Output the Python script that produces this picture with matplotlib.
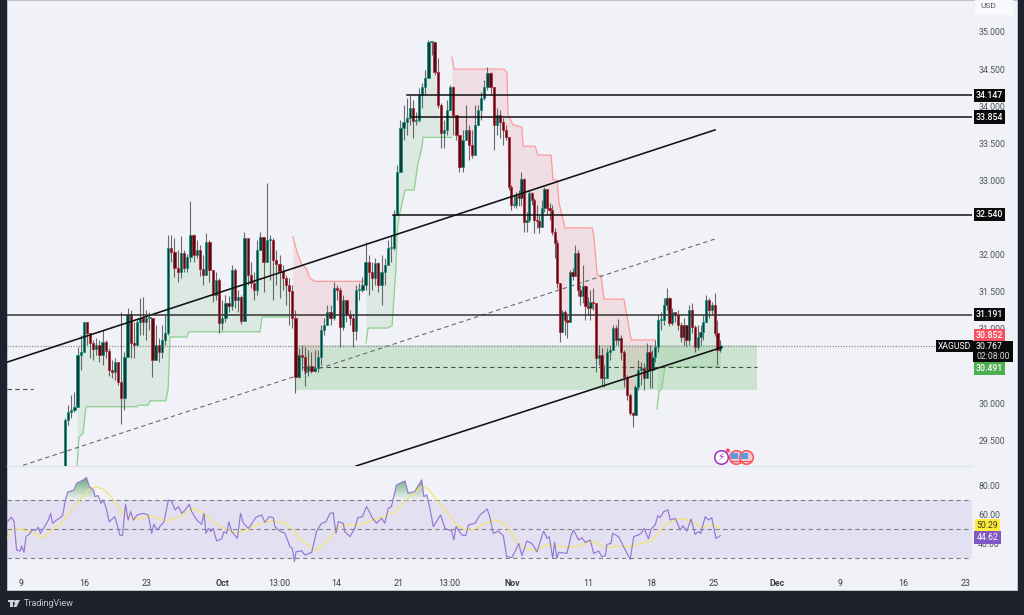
import numpy as np
import matplotlib
matplotlib.use("Agg")
import matplotlib.pyplot as plt
import matplotlib.transforms as mtr
from matplotlib.patches import Rectangle, Circle, Polygon

plt.rcParams['font.family'] = ['Roboto', 'DejaVu Sans']

# ---- candles (bars follow each other, open = previous close) ----
first_open = 29.10
segment_sizes = [34, 38, 32, 37, 34, 45]
segment_times = [14, 46.7, 85.1, 117.5, 154, 181.6, 222]
closes = [
 29.77,29.88,29.91,29.95,30.65,30.69,31.09,30.94,30.81,30.73,30.78,30.65,30.82,30.70,30.44,30.42,30.55,30.28,30.07,30.62,31.20,30.81,30.78,31.09,31.15,31.09,31.15,31.15,30.58,30.78,30.69,30.85,30.94,32.09,
 32.03,31.82,31.77,32.02,31.82,31.97,32.26,32.00,32.06,31.81,31.72,32.17,31.79,31.46,31.66,31.08,31.15,31.35,31.31,31.79,31.39,31.43,31.10,32.22,31.72,31.62,31.52,32.06,32.24,31.90,32.20,32.20,31.93,31.87,31.78,31.68,31.59,31.51,
 31.15,30.35,30.65,30.62,30.43,30.50,30.43,30.47,30.62,30.98,31.05,31.23,31.15,31.55,31.52,31.02,31.39,31.19,31.15,30.97,31.52,31.52,31.59,31.90,31.77,31.68,31.89,31.59,31.77,31.86,32.09,32.09,
 32.53,33.11,33.71,33.79,33.84,33.98,33.80,33.81,34.15,34.26,34.38,34.87,34.87,34.46,34.02,33.64,33.68,33.95,34.26,33.88,33.61,33.18,33.54,33.68,33.48,33.34,33.75,33.95,34.11,34.26,34.45,34.26,33.75,33.88,33.79,33.68,33.58,
 32.91,32.67,32.67,32.80,32.76,33.02,32.44,32.47,32.83,32.74,32.47,32.45,32.37,32.63,32.88,32.63,32.60,32.30,32.16,31.62,30.96,31.23,31.12,31.09,31.77,31.71,32.02,31.52,31.44,31.58,31.31,31.28,31.36,31.35,
 30.61,30.65,30.34,30.34,30.69,30.71,31.01,30.85,30.88,30.69,30.35,30.11,29.86,29.84,30.21,30.44,30.47,30.34,30.69,30.44,30.62,30.75,31.12,31.12,31.32,31.41,31.08,31.23,31.19,31.05,30.89,31.05,30.85,31.25,31.02,30.75,30.89,30.96,31.09,31.39,31.25,31.32,30.94,30.71,30.78]
highs = [
 29.80,29.97,30.11,30.15,30.75,30.92,31.09,31.09,30.94,30.85,30.88,30.85,30.98,30.85,30.74,30.58,30.61,30.55,31.23,30.69,31.28,31.25,31.09,31.15,31.41,31.43,31.25,31.23,31.15,31.05,30.88,31.05,31.19,32.26,
 32.26,32.22,32.06,32.25,32.06,32.01,32.72,32.28,32.20,32.13,32.00,32.29,32.20,31.72,31.77,31.68,31.39,31.46,31.44,31.86,31.82,31.52,31.46,32.30,32.20,31.90,31.77,32.20,32.30,32.20,32.97,32.26,32.22,32.06,31.99,31.86,31.72,31.68,
 31.59,31.25,30.74,30.78,30.75,30.71,30.69,30.71,30.71,31.05,31.15,31.32,31.32,31.63,31.59,31.56,31.46,31.39,31.25,31.20,31.59,31.62,31.70,32.17,32.00,31.90,31.95,31.90,32.00,31.95,32.20,32.26,
 32.60,33.21,33.81,34.01,34.11,34.15,34.08,33.92,34.24,34.31,34.49,34.89,34.88,34.78,34.65,34.04,33.81,34.08,34.29,34.27,33.81,33.57,33.68,34.02,33.75,33.68,34.01,34.02,34.19,34.35,34.53,34.46,34.26,33.98,33.95,33.84,33.75,
 33.58,32.94,32.80,32.84,32.87,33.11,33.03,32.57,32.87,32.84,32.76,32.67,32.53,32.74,32.91,32.80,32.69,32.67,32.36,32.20,31.59,31.25,31.25,31.19,31.79,31.82,32.13,32.06,31.59,31.86,31.59,31.43,31.52,31.55,
 31.35,30.78,30.74,30.51,30.74,30.78,31.05,31.05,31.13,30.92,30.71,30.38,30.13,29.88,30.24,30.58,30.55,30.54,30.81,30.78,30.71,30.85,31.19,31.23,31.41,31.55,31.43,31.28,31.23,31.25,31.09,31.15,31.05,31.32,31.35,31.05,31.05,31.05,31.19,31.46,31.41,31.36,31.48,31.12,30.85]
lows = [
 29.10,29.70,29.80,29.88,29.97,30.44,30.69,30.78,30.61,30.58,30.65,30.55,30.51,30.61,30.36,30.34,30.31,30.24,29.72,29.91,30.78,30.61,30.61,30.78,30.92,30.92,30.85,30.98,30.35,30.63,30.55,30.61,30.78,30.92,
 31.90,31.70,31.63,31.68,31.77,31.77,31.90,31.90,31.95,31.71,31.59,31.77,31.63,31.36,31.39,30.94,30.98,31.09,31.23,31.25,31.28,31.23,31.06,31.52,31.59,31.55,31.39,31.46,32.06,31.50,31.90,31.66,31.39,31.59,31.41,31.52,31.32,31.05,
 31.01,30.13,30.34,30.44,30.23,30.36,30.40,30.42,30.42,30.51,30.92,31.05,31.05,31.12,31.39,30.75,30.98,31.09,31.05,30.75,30.85,31.39,31.50,31.52,31.46,31.52,31.59,31.50,31.32,31.59,31.90,31.90,
 32.06,32.53,33.11,33.54,33.61,33.75,33.57,33.75,33.79,33.98,34.15,34.38,34.69,34.42,33.98,33.44,33.44,33.61,33.95,33.61,33.54,33.11,33.11,33.54,33.27,33.30,33.34,33.75,33.81,34.08,34.22,34.15,33.41,33.61,33.57,33.48,33.54,
 32.87,32.60,32.64,32.63,32.65,32.65,32.30,32.30,32.44,32.67,32.29,32.36,32.29,32.37,32.57,32.53,32.47,32.26,31.95,31.55,30.82,30.96,30.92,30.88,31.12,31.66,31.75,31.44,31.32,31.35,31.12,31.19,31.12,31.25,
 30.42,30.51,30.24,30.21,30.34,30.58,30.71,30.78,30.78,30.58,30.21,30.04,29.84,29.68,29.84,30.18,30.24,30.18,30.34,30.20,30.20,30.55,30.69,30.98,31.05,31.25,31.04,31.05,31.09,30.98,30.82,30.78,30.77,30.78,30.94,30.69,30.71,30.78,30.85,31.09,31.15,31.19,30.90,30.51,30.69]

# ---- trailing stop lines: (time, price) ----
green1_t = [17.8,18.4,19.7,20.6,36.8,37.1,40.3,41,46,46.7,47.3,52.7,53.3,75.9,76.5,84.8]
green1_p = [29.15,29.54,29.59,29.95,29.95,29.97,29.97,30.03,30.03,30.18,30.89,30.89,30.96,30.96,31.16,31.16]
green2_t = [109.5,110.2,116.2,117.8,118.4,119,119.4,120,121,121.9,124.8,126,127.3,127.6,136.8]
green2_p = [30.81,31.01,31.01,31.04,31.43,31.79,32.29,32.51,32.70,32.87,32.87,33.23,33.45,33.58,33.58]
green3_t = [201.9,202.5,203.5,204.4,222]
green3_p = [29.92,30.15,30.20,30.49,30.49]
red1_t = [86.3,87,87.9,89.2,90.5,91.7,93.3,109.2]
red1_p = [32.24,32.13,32.0,31.86,31.82,31.68,31.64,31.64]
red2_t = [136.8,137.5,153.3,154.3,154.6,156.2,159,159.4,163.2,164.1,168.3,168.9,170.2,170.8,172.7,181.3,181.9,182.9,184.1,185.1,191.4,193.7,201.3]
red2_p = [34.66,34.50,34.50,34.45,33.88,33.75,33.72,33.46,33.46,33.34,33.34,33.01,33.0,32.70,32.36,32.36,32.24,31.72,31.72,31.40,31.40,30.85,30.85]

# ---- drawn levels ----
h_levels = [34.147, 33.854, 32.540, 31.191]
h_starts = [122.5, 124, 118, -4.44]
price_ticks = [29.5,30.0,31.0,31.5,32.0,33.0,33.5,34.0,34.5,35.0]

# ---- RSI ----
rsi_t = [-4.3,-3,-2.2,-1.4,-.3,.2,.95,1.6,2.9,3.4,4.8,5.5,6.2,7.6,8.7,9.4,10.05,11.3,12.2,13.2,14,14.8,16.8,17.7,19.8,20.8,21.7,23,23.5,24.5,25.4,26.1,27,28,29.8,31.4,32.2,33.2,34,34.8,35.7,36.9,38.8,40.4,41.5,42.2,43.3,44.1,45.4,46.8,47.8,48.9,50,51,52.1,53.4,54.2,55.8,57.3,58.1,58.7,59.5,60.2,61,62.1,63.7,64.4,65.3,66,66.9,68.7,69.7,70.6,72.2,74.6,76.4,77.4,78.8,80.1,80.6,82.2,83.8,85.4,86.1,86.8,87.3,89.1,90.1,92.3,93.8,95.4,96.8,98.1,99.1,100,100.7,102.3,102.8,104.4,106,106.9,108.4,109.7,110.6,111.6,112.9,114.5,115.5,116.6,117.6,119.2,121.9,122.9,125,127.2,127.9,128.8,129.8,130.9,133.2,134.6,136.7,137.4,138.1,139.9,141.2,142,144.1,145.7,148,148.9,149.9,151.5,153.1,154.2,155.8,157.1,158,159,160.6,162.2,163.8,165.9,167,167.7,168.8,169.4,170.1,170.7,173.3,174.7,175.4,177,178.1,179.1,180.7,181.8,183.4,184.4,185.5,186,187.3,187.8,189.7,191.3,193.4,194.5,196,196.9,197.8,199.2,200,201.3,202.2,202.9,204,205.4,206.1,207.7,209.3,210.1,211.4,212.7,214,215.1,215.8,217.2,218.3,219.3,220.6,222]
rsi_v = [55.1,58.2,55.1,35.4,34.7,38.2,33.8,44.7,47,49.3,49.3,51.2,47,52.1,56.3,60.9,54,56.3,57.5,59.3,69.1,75.6,77.2,81.9,84.2,85.8,79.5,77.2,72.6,73.3,67.9,70.2,64.9,55.1,58.6,45.9,45.4,67.2,56.3,62.1,56.3,59.8,60.9,59.8,47,53.3,49.3,51.7,55.1,70.2,69.5,63.3,65.6,60.9,63.3,67.2,62.1,56.3,53.3,60.9,47,50.5,48.2,50.5,41.7,43.1,48.2,47,55.1,48.2,43.5,60.9,54,50.5,58.2,59.8,54.7,58.6,57.9,51.7,48.6,47,37.7,36.6,27.3,34.2,34.9,31.9,33.8,48.2,54,55.1,60.9,61.4,47,55.1,54,48.2,44.7,50.5,57.9,58.6,65.6,62.1,57.5,54,57.5,54,64.4,65.6,80.7,83.5,74.9,76.1,84.2,72.6,73.7,64.4,51.7,59.8,50.5,48.6,42.4,51.7,45.9,45.4,52.8,54,59.8,64,57.9,47,48.6,45.4,30.8,30.1,35.4,40,31.5,41.7,40,34.2,48.6,43.5,44.7,29.6,40.7,29.6,33.8,33.1,45.9,49.3,42.4,44,40.7,42.4,33.1,34.7,30.8,31.5,39.3,40,47,44.7,37.7,28.9,44.7,45.9,47,50.5,43.1,50,52.8,59.3,57.9,62.1,63.3,56.3,57.5,49.3,52.4,48.6,57,46.3,48.2,47,58.6,56.3,57.9,43.5,45.4]
ma_t = [-4.3,-2.4,-.3,1.8,3.9,6.9,9.2,11.3,13.4,15.6,18.7,21.4,23.5,26.1,28.2,30.4,32.5,35.7,38.3,41,43.6,46.2,50.5,54.2,56.8,60,63.2,66.3,68.7,71.6,74.8,79,83.3,86.4,89.6,93.3,96,99.1,102.3,107.1,110.8,115,118.7,121.4,124.5,127.2,129.3,131.9,135.1,138.8,143,146.7,150.4,153.1,155.8,157.4,160.1,163.8,166.4,170.1,173.3,177,181.2,186,189.7,193.9,196.6,200.3,202.4,205,208.7,211.9,216.1,219.3,222]
ma_v = [43.5,49.8,49.8,48.9,47,44,48.2,51.7,55.1,62.1,70.2,77.2,79.5,77.9,73.7,66.8,60.3,56.8,57.5,59.3,57.5,55.6,58.6,64.4,62.6,57.5,51.7,48.9,47.5,49.3,52.8,55.6,54.7,49.3,41.2,34.7,38.9,47,53.3,52.8,55.6,58.6,61.6,67.9,74.9,79.5,77.9,70.2,62.1,51.7,48.9,53.3,56.3,54,47,40,36.6,34.7,38.9,38.2,37.3,38.2,41.7,37,38.2,37.7,40,41.7,47,54,57,56.3,51.2,52.8,50.5]
rsi_ticks = [40, 60, 80]

# ---- time axis ----
time_ticks = [0,20,40,64,82,100,120,136,156,180,200,220,240,260,280,300]
time_labels = ['9','16','23','Oct','13:00','14','21','13:00','Nov','11','18','25','Dec','9','16','23']
bold_labels = {'Oct','Nov','Dec'}

DARK = '#1e222d'; PANEL = '#f0f2f7'
W, H = 1024, 615
fig = plt.figure(figsize=(W/100, H/100), dpi=100, facecolor=DARK)
def box(x0, y0, x1, y1):
    return [x0/W, 1-y1/H, (x1-x0)/W, (y1-y0)/H]
pxT = mtr.Affine2D().scale(1/W, -1/H).translate(0, 1) + fig.transFigure
fig.add_artist(Rectangle((7, 0), 1010, 590, transform=pxT, fc=PANEL, ec='#c9ccd4', lw=0.6, zorder=-5))
fig.add_artist(Rectangle((975, 0), 38, 15, transform=pxT, fc='#f8f9fd', ec='none', zorder=-4))
fig.text(988/W, 1-6/H, 'USD', fontsize=6, color='#50535e', ha='center', va='center')

ax = fig.add_axes(box(7, 0, 972, 466), facecolor='none')
rx = fig.add_axes(box(7, 467, 972, 572), facecolor='none')
XMAX = 301.9
for a in (ax, rx):
    a.set_xlim(-4.44, XMAX)
    for s in a.spines.values():
        s.set_visible(False)
ax.set_ylim(29.151, 35.431)
rx.set_ylim(20.1, 93.2)

# ---- bars ----
closes, highs, lows = map(np.array, (closes, highs, lows))
opens = np.r_[first_open, closes[:-1]]
idx = np.r_[0, np.cumsum(segment_sizes) - 1]
bar_t = np.interp(np.arange(len(closes)), idx, segment_times)

# trailing fills
def trail(t, p, color, fillc, alpha):
    t, p = np.array(t), np.array(p)
    grid = np.union1d(t, bar_t[(bar_t >= t[0]) & (bar_t <= t[-1])])
    ax.fill_between(grid, np.interp(grid, t, p), np.interp(grid, bar_t, closes),
                    color=fillc, alpha=alpha, lw=0, zorder=1.5)
    ax.plot(t, p, color=color, lw=0.9, zorder=2)
for t, p in ((green1_t, green1_p), (green2_t, green2_p), (green3_t, green3_p)):
    trail(t, p, '#8fd08f', '#4caf50', 0.12)
for t, p in ((red1_t, red1_p), (red2_t, red2_p)):
    trail(t, p, '#ff9a9a', '#f23645', 0.11)

# zone
ax.add_patch(Rectangle((87, 30.18), 146.7, 0.60, fc='#4caf50', alpha=0.22, ec='none', zorder=1))
ax.plot([87, 233.7], [30.49, 30.49], color='#4a4a4a', lw=0.8, ls=(0, (4, 3)), zorder=2.5)
ax.plot([-4.44, 3.8], [30.19, 30.19], color='#4a4a4a', lw=0.8, ls=(0, (4, 3)), zorder=2.5)

up = closes >= opens
ax.vlines(bar_t, lows, highs, color='#3c3c3c', lw=0.8, alpha=0.75, zorder=3)
ax.bar(bar_t[up], np.maximum(closes-opens, 0.015)[up], bottom=opens[up], width=0.72,
       color='#0b3d38', edgecolor='#1f8f80', lw=0.6, zorder=3.2)
ax.bar(bar_t[~up], np.maximum(opens-closes, 0.015)[~up], bottom=closes[~up], width=0.72,
       color='#45101a', edgecolor='#b82c38', lw=0.6, zorder=3.2)

# trend lines and levels
ax.plot([-4.44, 220.3], [30.55, 33.68], color='#111', lw=1.15, zorder=4)
ax.plot([106.3, 222.5], [29.15, 30.75], color='#111', lw=1.15, zorder=4)
ax.plot([0.63, 220.3], [29.16, 32.21], color='#6a6a6a', lw=0.8, ls=(0, (4, 3)), zorder=2.6)
for lv, st in zip(h_levels, h_starts):
    ax.plot([st, XMAX], [lv, lv], color='#111' if lv != 31.191 else '#333', lw=1.1, zorder=4)
ax.plot([-4.44, XMAX], [30.767, 30.767], color='#8a8a8a', lw=0.9, ls=(0, (1, 1.2)), zorder=2.7)

# price scale
ax.yaxis.tick_right()
ax.set_yticks(price_ticks)
ax.set_yticklabels([f'{v:.3f}' for v in price_ticks], fontsize=6.3, color='#50535e')
ax.tick_params(axis='y', length=0, pad=4.5)
ax.set_xticks([])

ytr = ax.get_yaxis_transform()
def tag(val, txt, fc, tc='white', x=989.5):
    ax.text((x-7)/965, val, txt, transform=ytr, fontsize=6.3, color=tc, ha='center', va='center',
            clip_on=False, zorder=10, fontweight='medium',
            bbox=dict(boxstyle='square,pad=0.24', fc=fc, ec='none'))
for lv in h_levels:
    tag(lv, f'{lv:.3f}', '#0a0a0a')
tag(30.91, '30.852', '#f7525f')
tag(30.46, '30.491', '#4caf50')
ax.add_patch(Rectangle((973-7, 341), 40, 21, transform=mtr.Affine2D().scale(1/965, -1/466).translate(0, 1) + ax.transAxes,
                       fc='#0a0a0a', ec='none', clip_on=False, zorder=10))
ax.text((989-7)/965, 30.767, '30.767', transform=ytr, fontsize=6.3, color='white', ha='center', va='center', zorder=11, clip_on=False)
ax.text((993-7)/965, 30.626, '02:08:00', transform=ytr, fontsize=6.2, color='#d8d8d8', ha='center', va='center', zorder=11, clip_on=False)
ax.text((954.5-7)/965, 30.767, 'XAGUSD', transform=ytr, fontsize=6.2, color='white', ha='center', va='center',
        clip_on=False, zorder=10, bbox=dict(boxstyle='square,pad=0.22', fc='#0a0a0a', ec='none'))

# event icons
icon_y = 29.27
ax.scatter([222.2], [icon_y], s=95, fc='white', ec='#a02fc0', lw=1.1, zorder=6)
ax.text(222.2, icon_y, '\u26a1', fontsize=7.5, color='#a02fc0', ha='center', va='center', family='DejaVu Sans', zorder=7)
ax.scatter([224.4], [icon_y+0.09], s=9, fc='#f7525f', ec='none', zorder=7)
ax.scatter([227, 230.2], [icon_y]*2, s=95, fc='#f6c9cc', ec='#f7525f', lw=1.1, zorder=6)
ax.scatter([226.4, 229.6], [icon_y+0.015]*2, s=24, fc='#5a9be0', marker='s', ec='none', zorder=7)
ax.plot([225.2, 228.6], [icon_y-0.045]*2, color='#f7525f', lw=0.8, zorder=7)
ax.plot([228.4, 231.8], [icon_y-0.045]*2, color='#f7525f', lw=0.8, zorder=7)

# RSI pane
ax.plot([-4.44, XMAX], [29.155, 29.155], color='#e0e3eb', lw=1.0, clip_on=False, zorder=1)
rx.axhspan(30, 70, color='#7e57c2', alpha=0.11, lw=0, zorder=1)
for lv in (70, 50, 30):
    rx.axhline(lv, color='#80808a', lw=0.8, ls=(0, (4, 3)), zorder=2)
rsi_t, rsi_v = np.array(rsi_t), np.array(rsi_v)
grid = np.union1d(rsi_t, np.arange(-4, 222, 0.25))
vals = np.interp(grid, rsi_t, rsi_v)
poly = rx.fill_between(grid, 70, vals, where=vals > 70, interpolate=True, color='none', lw=0)
rgba = np.ones((64, 1, 4)); rgba[..., :3] = [0.30, 0.62, 0.35]; rgba[..., 3] = np.linspace(0.85, 0.0, 64)[:, None]
for path in poly.get_paths():
    im = rx.imshow(rgba, extent=[-4.44, XMAX, 70, 86], aspect='auto', origin='upper', zorder=2.5)
    im.set_clip_path(path, transform=rx.transData)
rx.set_xlim(-4.44, XMAX); rx.set_ylim(20.1, 93.2)
rx.plot(ma_t, ma_v, color='#f6e56a', lw=0.85, zorder=3)
rx.plot(rsi_t, rsi_v, color='#9478d2', lw=0.85, zorder=4)

rx.yaxis.tick_right()
rx.set_yticks(rsi_ticks)
rx.set_yticklabels([f'{v:.2f}' for v in rsi_ticks], fontsize=6.3, color='#50535e')
rx.tick_params(axis='y', length=0, pad=4.5)
rtr = rx.get_yaxis_transform()
for pos, txt, fc, tc in ((52.5, '50.29', '#ffeb3b', '#3a3a2a'), (44.1, '44.62', '#7e57c2', 'white')):
    rx.text((987.5-7)/965, pos, txt, transform=rtr, fontsize=6.3, color=tc, ha='center', va='center',
            clip_on=False, zorder=10, bbox=dict(boxstyle='square,pad=0.24', fc=fc, ec='none'))

rx.set_xticks(time_ticks)
rx.set_xticklabels(time_labels, fontsize=6.4, color='#3a3d46')
for lab in rx.get_xticklabels():
    if lab.get_text() in bold_labels:
        lab.set_fontweight('bold')
rx.tick_params(axis='x', length=0, pad=5)

# brand
fig.text(24/W, 1-603.5/H, 'TradingView', fontsize=6.5, color='#c5c8d0', ha='left', va='center')
fig.add_artist(Rectangle((7.5, 600), 6, 2, transform=pxT, fc='#d1d4dc', ec='none'))
fig.add_artist(Rectangle((10, 600), 2.5, 7, transform=pxT, fc='#d1d4dc', ec='none'))
fig.add_artist(Circle((15, 601.5), 1.3, transform=pxT, fc='#d1d4dc', ec='none'))
fig.add_artist(Polygon([(16, 600), (20, 600), (16.5, 607), (13.5, 607)], transform=pxT, fc='#d1d4dc', ec='none'))

fig.savefig('out.png', dpi=100, facecolor=DARK)
